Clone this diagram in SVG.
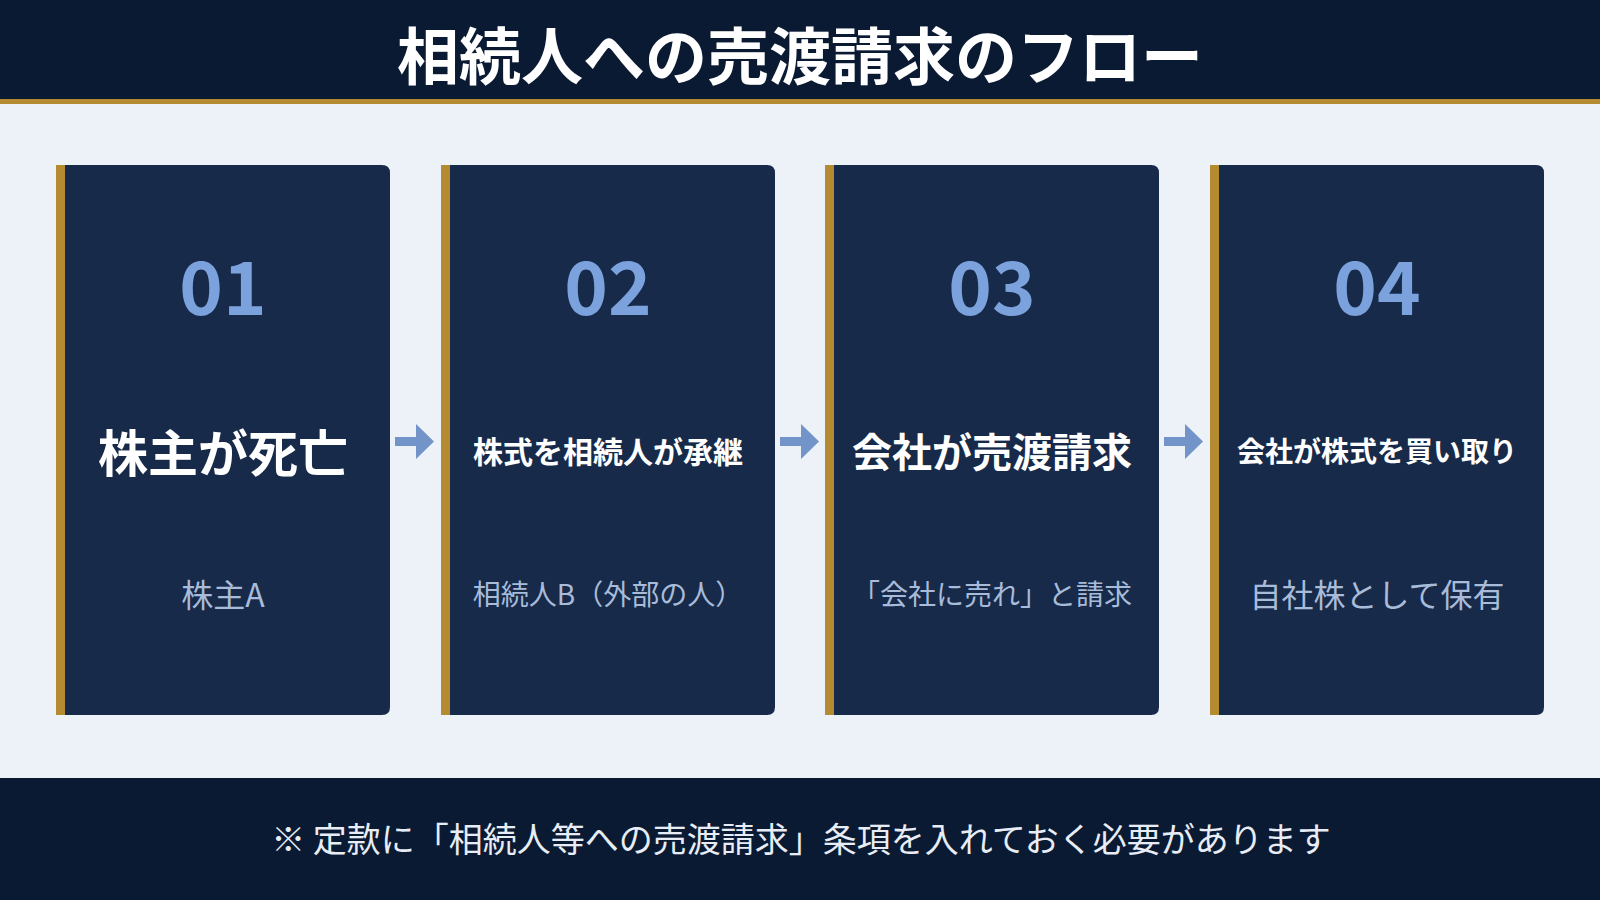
<svg xmlns="http://www.w3.org/2000/svg" width="1600" height="900" viewBox="0 0 1600 900">
<style>
text{font-family:"Noto Sans CJK JP","Noto Sans",sans-serif;text-anchor:middle;dominant-baseline:central}
.card{fill:#172a4a}
.bar{fill:#b58b32}
.num{fill:#7ba2dc;font-weight:700;font-size:74px;dominant-baseline:alphabetic}
.ttl{fill:#ffffff;font-weight:700}
.sub{fill:#a8bbd8}
.arrow{fill:#7394c9}
</style>
<defs>
<path id="cardShape" d="M0,0 H326 Q334,0 334,8 V542 Q334,550 326,550 H0 Z"/>
</defs>
<rect width="1600" height="900" fill="#edf1f8"/>
<g id="header">
<rect x="0" y="0" width="1600" height="99" fill="#0b1a33"/>
<rect x="0" y="99" width="1600" height="5" fill="#b58b32"/>
<text x="800" y="53" font-size="62" font-weight="700" fill="#ffffff">相続人への売渡請求のフロー</text>
</g>
<g id="step1" transform="translate(56,165)">
<use href="#cardShape" class="card"/>
<rect width="9" height="550" class="bar"/>
<text class="num" x="167" y="150">01</text>
<text class="ttl" x="167" y="285" font-size="50">株主が死亡</text>
<text class="sub" x="167" y="428" font-size="32">株主A</text>
</g>
<g id="step2" transform="translate(441,165)">
<use href="#cardShape" class="card"/>
<rect width="9" height="550" class="bar"/>
<text class="num" x="167" y="150">02</text>
<text class="ttl" x="167" y="285" font-size="30">株式を相続人が承継</text>
<text class="sub" x="167" y="428" font-size="28">相続人B（外部の人）</text>
</g>
<g id="step3" transform="translate(825,165)">
<use href="#cardShape" class="card"/>
<rect width="9" height="550" class="bar"/>
<text class="num" x="167" y="150">03</text>
<text class="ttl" x="167" y="285" font-size="40">会社が売渡請求</text>
<text class="sub" x="167" y="428" font-size="28">「会社に売れ」と請求</text>
</g>
<g id="step4" transform="translate(1210,165)">
<use href="#cardShape" class="card"/>
<rect width="9" height="550" class="bar"/>
<text class="num" x="167" y="150">04</text>
<text class="ttl" x="167" y="285" font-size="28">会社が株式を買い取り</text>
<text class="sub" x="167" y="428" font-size="32">自社株として保有</text>
</g>
<g id="connectors">
<path class="arrow" d="M395,437 H416 V424 L434,441.5 L416,459 V446 H395 Z"/>
<path class="arrow" d="M780,437 H801 V424 L819,441.5 L801,459 V446 H780 Z"/>
<path class="arrow" d="M1164,437 H1185 V424 L1203,441.5 L1185,459 V446 H1164 Z"/>
</g>
<g id="footer">
<rect x="0" y="778" width="1600" height="122" fill="#0b1a33"/>
<text x="801" y="837" font-size="34" fill="#e8edf5">※ 定款に「相続人等への売渡請求」条項を入れておく必要があります</text>
</g>
</svg>
